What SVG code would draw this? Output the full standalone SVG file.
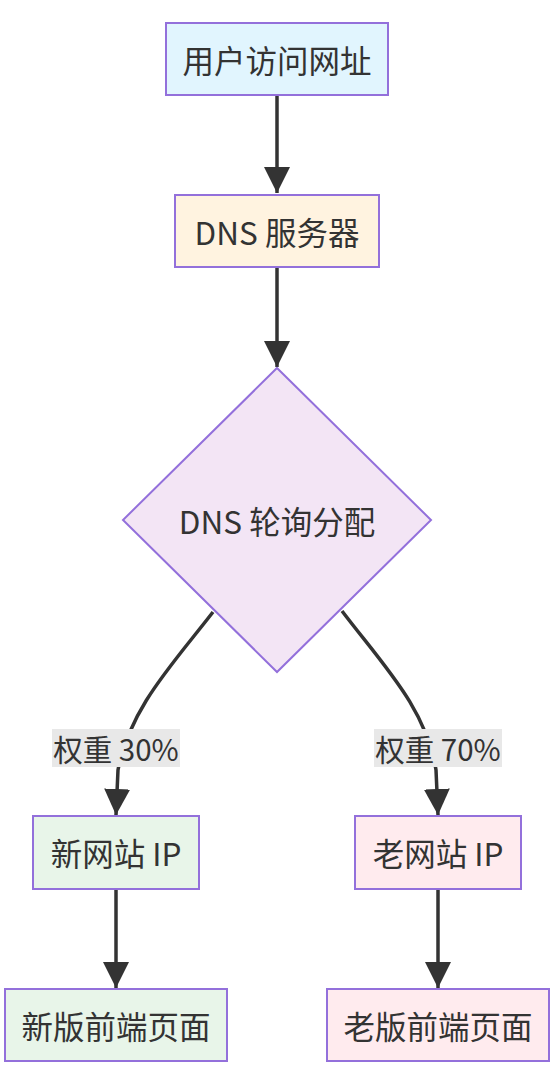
<svg xmlns="http://www.w3.org/2000/svg" width="558" height="1070" viewBox="0 0 558 1070">
<style>
.node rect,.node polygon{stroke:#9370DB;stroke-width:2}
.t{font-family:"Trebuchet MS","Noto Sans CJK SC","DejaVu Sans",sans-serif;font-size:31.5px;fill:#333;text-anchor:middle;dominant-baseline:central}
.l{font-size:29.5px}
.edge{fill:none;stroke:#333;stroke-width:3.5}
.lbg{fill:#e8e8e8}
</style>
<defs>
<marker id="arr" markerUnits="userSpaceOnUse" markerWidth="26" markerHeight="26" viewBox="0 0 24 24" refX="24" refY="12" orient="auto">
<path d="M0,0 L24,12 L0,24 z" fill="#333"/>
</marker>
</defs>
<rect width="558" height="1070" fill="#fff"/>
<g id="connectors">
<path class="edge" d="M277,96 L277,193" marker-end="url(#arr)"/>
<path class="edge" d="M277,268 L277,367" marker-end="url(#arr)"/>
<path class="edge" d="M213,612 C172,665 130,708 118,770 L116,815" marker-end="url(#arr)"/>
<path class="edge" d="M342,611 C383,665 426,708 436,770 L438,815" marker-end="url(#arr)"/>
<path class="edge" d="M116,890 L116,988" marker-end="url(#arr)"/>
<path class="edge" d="M438,890 L438,988" marker-end="url(#arr)"/>
</g>
<g id="label-30">
<rect class="lbg" x="52" y="729" width="128" height="38"/>
<text class="t l" x="116" y="748">权重 30%</text>
</g>
<g id="label-70">
<rect class="lbg" x="374" y="729" width="128" height="38"/>
<text class="t l" x="438" y="748">权重 70%</text>
</g>
<g id="user" class="node">
<rect x="166" y="23" width="222" height="72" fill="#e1f5fe"/>
<text class="t" x="277" y="59">用户访问网址</text>
</g>
<g id="dns" class="node">
<rect x="175" y="195" width="204" height="72" fill="#fff3e0"/>
<text class="t" x="277" y="231">DNS 服务器</text>
</g>
<g id="rr" class="node">
<polygon points="277,368 431,520 277,672 123,520" fill="#f3e5f5"/>
<text class="t" x="277" y="520">DNS 轮询分配</text>
</g>
<g id="newip" class="node">
<rect x="33" y="816" width="166" height="73" fill="#e8f5e9"/>
<text class="t" x="116" y="852">新网站 IP</text>
</g>
<g id="oldip" class="node">
<rect x="355" y="816" width="166" height="73" fill="#ffebee"/>
<text class="t" x="438" y="852">老网站 IP</text>
</g>
<g id="newfe" class="node">
<rect x="5" y="989" width="222" height="72" fill="#e8f5e9"/>
<text class="t" x="116" y="1025">新版前端页面</text>
</g>
<g id="oldfe" class="node">
<rect x="327" y="989" width="222" height="72" fill="#ffebee"/>
<text class="t" x="438" y="1025">老版前端页面</text>
</g>
</svg>
